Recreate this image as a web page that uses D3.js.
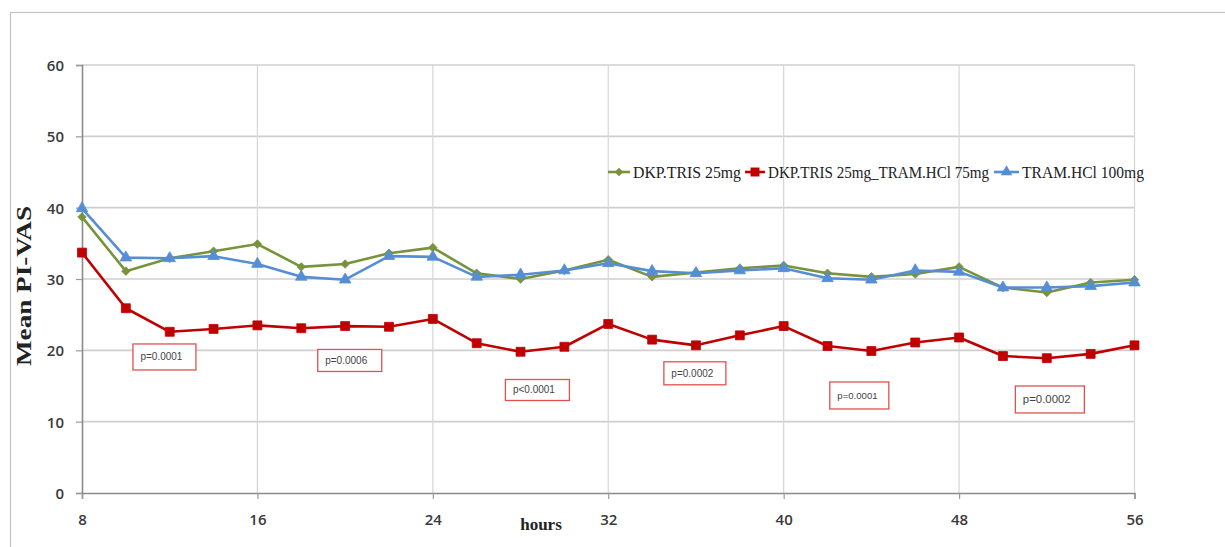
<!DOCTYPE html>
<html>
<head>
<meta charset="utf-8">
<script src="https://cdn.jsdelivr.net/npm/d3@7"></script>
<style>
  html, body { margin: 0; padding: 0; background: #fff; }
  svg { display: block; }
</style>
</head>
<body>
<svg id="chart" width="1225" height="547"></svg>
<script>
// Time points (hours) and mean PI-VAS for each treatment group
const hours = [8, 10, 12, 14, 16, 18, 20, 22, 24, 26, 28, 30, 32, 34, 36, 38, 40, 42, 44, 46, 48, 50, 52, 54, 56];
const dkpTris = [38.7, 31.1, 32.9, 33.9, 34.9, 31.7, 32.1, 33.6, 34.4, 30.8, 30.0, 31.2, 32.7, 30.3, 30.9, 31.5, 31.9, 30.8, 30.3, 30.7, 31.7, 28.8, 28.1, 29.5, 29.9];
const dkpTrisTram = [33.7, 25.9, 22.6, 23.0, 23.5, 23.1, 23.4, 23.3, 24.4, 21.0, 19.8, 20.5, 23.7, 21.5, 20.7, 22.1, 23.4, 20.6, 19.9, 21.1, 21.8, 19.2, 18.9, 19.5, 20.7];
const tramHcl = [39.9, 33.0, 32.9, 33.2, 32.1, 30.3, 29.9, 33.2, 33.1, 30.3, 30.6, 31.2, 32.2, 31.1, 30.8, 31.2, 31.5, 30.1, 29.9, 31.2, 31.0, 28.8, 28.8, 29.0, 29.5];

const seriesNames = ["DKP.TRIS 25mg", "DKP.TRIS 25mg_TRAM.HCl 75mg", "TRAM.HCl 100mg"];
const xTicks = [8, 16, 24, 32, 40, 48, 56];
const yTicks = [0, 10, 20, 30, 40, 50, 60];

// p-value annotations with their anchor (hour, value)
const pTexts = ["p=0.0001", "p=0.0006", "p<0.0001", "p=0.0002", "p=0.0001", "p=0.0002"];
const pHours = [11.76, 20.21, 28.77, 35.95, 43.45, 52.14];
const pValues = [19.07, 18.58, 14.44, 16.78, 13.67, 13.11];

// ---------- layout ----------
const svg = d3.select("#chart");
const plot = { left: 82, right: 1134.5, top: 65, bottom: 493 };

const x = d3.scaleLinear().domain([8, 56]).range([plot.left, plot.right]);
const y = d3.scaleLinear().domain([0, 60]).range([plot.bottom, plot.top]);

const colors = ["#77933C", "#C00000", "#558ED5"];
const axisFont = "'Open Sans', 'DejaVu Sans', sans-serif";
const serifFont = "'Liberation Serif', 'DejaVu Serif', serif";

// outer frame
svg.append("rect")
  .attr("x", 10.5).attr("y", 12.5)
  .attr("width", 1400).attr("height", 700)
  .attr("fill", "none").attr("stroke", "#c4c4c4").attr("stroke-width", 1.2);

// gridlines
const grid = svg.append("g");
grid.selectAll("line.h").data(yTicks.filter(d => d > 0)).join("line")
  .attr("x1", plot.left).attr("x2", plot.right)
  .attr("y1", d => y(d)).attr("y2", d => y(d))
  .attr("stroke", "#cfcfcf").attr("stroke-width", 1.6);
grid.selectAll("line.v").data(xTicks.filter(d => d > 8)).join("line")
  .attr("x1", d => x(d)).attr("x2", d => x(d))
  .attr("y1", plot.top).attr("y2", plot.bottom)
  .attr("stroke", "#d6d6d6").attr("stroke-width", 1.2);

// axes
const xAxis = d3.axisBottom(x).tickValues(xTicks).tickSize(6).tickPadding(15).tickFormat(d3.format("d"));
const yAxis = d3.axisLeft(y).tickValues(yTicks).tickSize(6).tickPadding(12).tickFormat(d3.format("d"));

const gx = svg.append("g").attr("transform", `translate(0,${plot.bottom})`).call(xAxis);
const gy = svg.append("g").attr("transform", `translate(${plot.left},0)`).call(yAxis);

[gx, gy].forEach(g => {
  g.select(".domain").attr("stroke", "#8a8a8a").attr("stroke-width", 1.6);
  g.selectAll(".tick line").attr("stroke", "#9a9a9a").attr("stroke-width", 1.2);
  g.selectAll(".tick text")
    .attr("fill", "#3a3a3a")
    .style("font-family", axisFont)
    .style("font-size", "15px")
    .style("font-weight", "600");
});
gy.selectAll(".tick text").attr("dy", "0.36em");

// axis titles
svg.append("text")
  .attr("x", 541).attr("y", 530)
  .attr("text-anchor", "middle")
  .style("font-family", serifFont).style("font-size", "17px").style("font-weight", "bold")
  .attr("fill", "#222")
  .text("hours");

svg.append("text")
  .attr("transform", "translate(31,286) rotate(-90)")
  .attr("text-anchor", "middle")
  .attr("textLength", 160).attr("lengthAdjust", "spacingAndGlyphs")
  .style("font-family", serifFont).style("font-size", "20px").style("font-weight", "bold")
  .attr("fill", "#222")
  .text("Mean  PI-VAS");

// series
const seriesData = [dkpTris, dkpTrisTram, tramHcl].map((vals, i) => ({
  name: seriesNames[i],
  color: colors[i],
  points: hours.map((h, j) => ({ h, v: vals[j] }))
}));

const line = d3.line().x(d => x(d.h)).y(d => y(d.v));
const symbols = [
  d3.symbol().type(d3.symbolDiamond2).size(46),
  d3.symbol().type(d3.symbolSquare).size(80),
  d3.symbol().type(d3.symbolTriangle).size(58)
];

seriesData.forEach((s, i) => {
  const g = svg.append("g");
  g.append("path")
    .datum(s.points)
    .attr("d", line)
    .attr("fill", "none")
    .attr("stroke", s.color)
    .attr("stroke-width", 2.6)
    .attr("stroke-linejoin", "round");
  g.selectAll("path.m").data(s.points).join("path")
    .attr("class", "m")
    .attr("transform", d => `translate(${x(d.h)},${y(d.v)})`)
    .attr("d", symbols[i]())
    .attr("fill", s.color)
    .attr("stroke", s.color)
    .attr("stroke-width", 0.8);
});

// p-value boxes
const pSizes = [[63, 26, 10], [64, 22, 10], [64, 21, 10], [62, 23, 10], [59, 27, 9.6], [69, 27, 11.4]];
pTexts.forEach((t, i) => {
  const [w, h, fs] = pSizes[i];
  const cx = x(pHours[i]), cy = y(pValues[i]);
  svg.append("rect")
    .attr("x", cx - w / 2).attr("y", cy - h / 2)
    .attr("width", w).attr("height", h)
    .attr("fill", "#fff")
    .attr("stroke", "#e2504f").attr("stroke-width", 1.3);
  svg.append("text")
    .attr("x", cx - w / 2 + 7.5).attr("y", cy)
    .attr("dy", "0.35em")
    .style("font-family", "'Liberation Sans', Arial, sans-serif")
    .style("font-size", fs + "px")
    .attr("fill", "#444")
    .text(t);
});

// legend
const legendItems = [
  { lx: 608, tx: 633, tw: 108 },
  { lx: 745, tx: 768, tw: 221 },
  { lx: 994, tx: 1022, tw: 122 }
];
const legend = svg.append("g");
legendItems.forEach((it, i) => {
  const s = seriesData[i];
  const lw = it.tx - it.lx - 3;
  legend.append("line")
    .attr("x1", it.lx).attr("x2", it.lx + lw)
    .attr("y1", 172).attr("y2", 172)
    .attr("stroke", s.color).attr("stroke-width", 2.6);
  legend.append("path")
    .attr("transform", `translate(${it.lx + lw / 2},172)`)
    .attr("d", symbols[i]())
    .attr("fill", s.color);
  legend.append("text")
    .attr("x", it.tx).attr("y", 172).attr("dy", "0.35em")
    .attr("textLength", it.tw).attr("lengthAdjust", "spacingAndGlyphs")
    .style("font-family", serifFont).style("font-size", "16px")
    .attr("fill", "#222")
    .text(s.name);
});
</script>
</body>
</html>
